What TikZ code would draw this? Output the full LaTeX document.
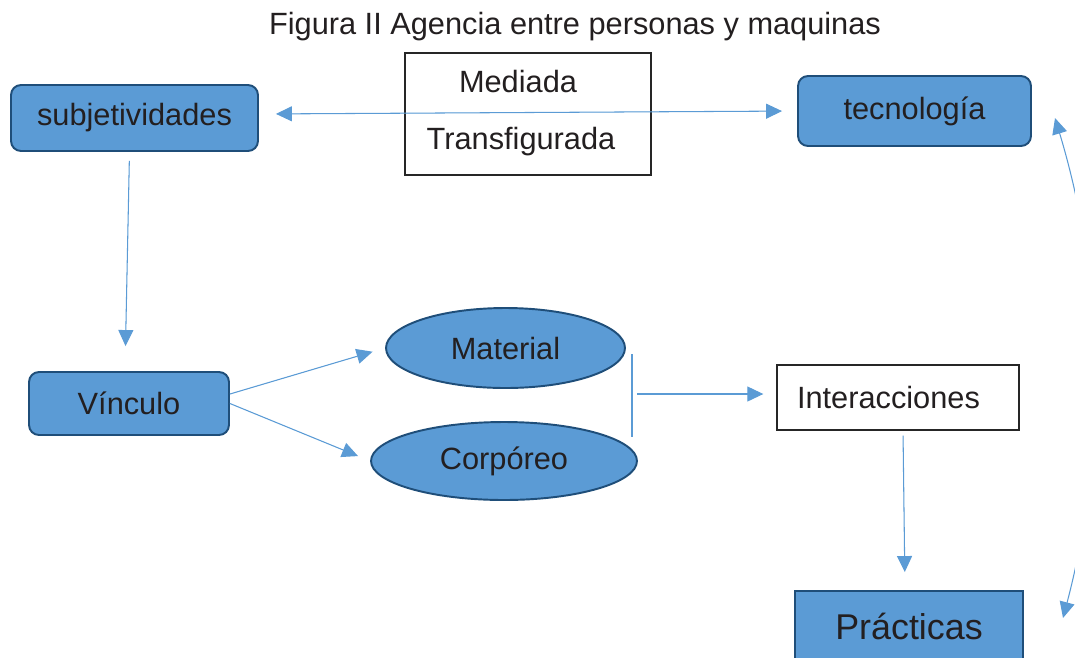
\documentclass[tikz,border=0pt]{standalone}
\usepackage{fontspec}
\setmainfont{Liberation Sans}
\usetikzlibrary{arrows.meta,shapes.geometric}
\definecolor{boxblue}{HTML}{5B9BD5}
\definecolor{edgeblue}{HTML}{1F4E79}
\definecolor{arrblue}{HTML}{5B9BD5}
\definecolor{inkgray}{HTML}{231F20}
\begin{document}
\begin{tikzpicture}[x=0.02cm,y=-0.02cm,
		>={Triangle[length=0.32cm,width=0.3cm]},
		txt/.style={font=\fontsize{17.5}{21}\selectfont,text=inkgray},
		bluebox/.style={txt,draw=edgeblue,fill=boxblue,line width=1.1pt,inner sep=0pt},
		whitebox/.style={txt,draw=black!85,line width=0.8pt,inner sep=0pt},
		arr/.style={->,draw=arrblue,fill=arrblue,line width=0.6pt}]
				\useasboundingbox (0,0) rectangle (1075,657);
				\node[txt] (title) at (575,27) {Figura II Agencia entre personas y maquinas};
				\node[whitebox,minimum width=4.92cm,minimum height=2.44cm] (mt) at (528,114) {};
				\node[txt] (med) at (518,82) {Mediada};
				\node[txt] (trans) at (521,142) {Transfigurada};
				\node[bluebox,rounded corners=0.2cm,minimum width=4.94cm,minimum height=1.32cm] (subj) at (134.5,118) {subjetividades};
				\node[bluebox,rounded corners=0.2cm,minimum width=4.66cm,minimum height=1.40cm] (tec) at (914.5,111) {tecnología};
				\node[bluebox,rounded corners=0.2cm,minimum width=4.0cm,minimum height=1.26cm] (vinc) at (129,403.5) {Vínculo};
				\node[bluebox,ellipse,minimum width=4.78cm,minimum height=1.6cm] (mat) at (505.5,348) {Material};
				\node[bluebox,ellipse,minimum width=5.32cm,minimum height=1.56cm] (corp) at (504,461) {Corpóreo};
				\node[whitebox,minimum width=4.84cm,minimum height=1.30cm,inner xsep=0.4cm,text width=4.04cm,align=left] (inter) at (898,397.5) {Interacciones};
				\node[bluebox,minimum width=4.56cm,minimum height=1.40cm,font=\fontsize{20.4}{24}\selectfont] (prac) at (909,626) {Prácticas};
				\coordinate (brtop) at (632,354);
				\coordinate (brbot) at (632,437);
				\coordinate (brmid) at (637,394);
				\coordinate (ctop) at (1055,118);
				\coordinate (cbot) at (1063,618);
				\draw[arr,<->,shorten <=0.34cm,shorten >=0.3cm] ([yshift=0.08cm]subj.east) -- (tec.west);
				\draw[arr,shorten <=0.18cm,shorten >=0.5cm] ([xshift=-0.1cm]subj.south) -- ([xshift=-0.08cm]vinc.north);
				\draw[arr,shorten >=0.26cm] ([yshift=0.19cm]vinc.east) -- (mat.west);
				\draw[arr,shorten >=0.26cm] (vinc.east) -- (corp.west);
				\draw[draw=arrblue,line width=0.6pt] (brtop) -- (brbot);
				\draw[arr,shorten >=0.26cm] (brmid) -- (brmid -| inter.west);
				\draw[arr,shorten <=0.1cm,shorten >=0.36cm] ([xshift=0.1cm]inter.south) -- ([xshift=-0.08cm]prac.north);
				\draw[arr,<->,fill=none] (cbot) .. controls (1102,470) and (1110,300) .. (ctop);
			\end{tikzpicture}
\end{document}
